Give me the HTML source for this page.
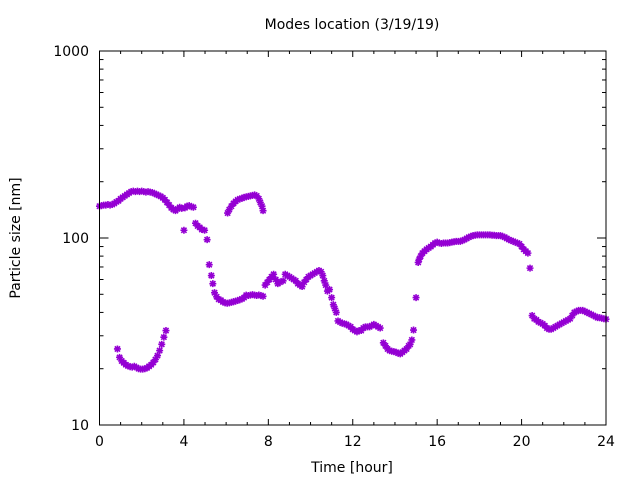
<!DOCTYPE html>
<html><head><meta charset="utf-8">
<style>
html,body{margin:0;padding:0;background:#fff;}
svg{display:block;font-family:"DejaVu Sans","Liberation Sans",sans-serif;}
</style></head>
<body>
<svg id="chart" width="640" height="480" viewBox="0 0 640 480" xmlns="http://www.w3.org/2000/svg">
<rect width="640" height="480" fill="#fff"/>
<text x="352" y="29" font-size="14" text-anchor="middle" fill="#000">Modes location (3/19/19)</text>
<text x="352" y="472" font-size="14" text-anchor="middle" fill="#000">Time [hour]</text>
<text transform="translate(20,238) rotate(-90)" font-size="14" text-anchor="middle" fill="#000">Particle size [nm]</text>
<g id="axes"></g>
<g id="points"></g>
<rect x="99.5" y="51" width="506.5" height="374" fill="none" stroke="#000" stroke-width="1"/>
</svg>
<script>
const xTicks = [0, 4, 8, 12, 16, 20, 24];
const yTicks = [10, 100, 1000];
const yTickLabels = ["10", "100", "1000"];
const hours = [
0,0.1,0.2,0.3,0.4,0.5,0.6,0.7,0.8,0.9,1.0,1.1,1.2,1.3,1.4,1.5,1.6,1.7,1.8,1.9,2.0,2.1,2.2,2.3,2.4,2.5,2.6,2.7,2.8,2.9,3.0,3.1,3.2,3.3,3.4,3.5,3.6,3.7,3.8,3.9,4.05,4.15,4.25,4.35,4.45,
4.0,
0.85,0.95,1.05,1.15,1.25,1.35,1.45,1.55,1.65,1.75,1.85,1.95,2.05,2.15,2.25,2.35,2.45,2.55,2.65,2.75,2.85,2.95,3.05,3.15,
4.55,4.65,4.75,4.85,4.98,5.1,5.2,5.3,5.37,5.45,5.55,5.65,5.75,5.85,5.95,6.05,6.15,6.25,6.35,6.45,6.55,6.65,6.75,6.85,6.95,7.05,7.15,7.25,7.35,7.45,7.55,7.65,7.75,
6.07,6.15,6.25,6.35,6.45,6.55,6.65,6.75,6.85,6.95,7.05,7.15,7.25,7.35,7.45,7.55,7.62,7.7,7.75,
7.85,7.95,8.05,8.15,8.25,8.35,8.45,8.55,8.7,8.8,8.9,9.0,9.1,9.2,9.3,9.4,9.5,9.6,9.7,9.8,9.9,10.0,10.1,10.2,10.3,10.4,10.5,10.58,10.65,10.72,10.8,10.9,11.0,11.08,11.15,11.22,11.3,11.4,11.5,11.6,11.7,11.8,11.9,12.0,12.1,12.2,12.3,12.4,12.5,12.6,12.7,12.8,12.9,13.0,13.1,13.2,13.3,
13.45,13.55,13.65,13.75,13.85,13.95,14.05,14.15,14.25,14.35,14.45,14.55,14.65,14.72,14.8,14.88,
15.0,
15.1,15.15,15.22,15.3,15.4,15.5,15.6,15.7,15.8,15.9,16.0,16.1,16.2,16.3,16.4,16.5,16.6,16.7,16.8,16.9,17.0,17.1,17.2,17.3,17.4,17.5,17.6,17.7,17.8,17.9,18.0,18.1,18.2,18.3,18.4,18.5,18.6,18.7,18.8,18.9,19.0,19.1,19.2,19.3,19.4,19.5,19.6,19.7,19.8,19.9,20.0,20.1,20.2,20.3,20.4,
20.5,20.6,20.7,20.8,20.9,21.0,21.1,21.2,21.3,21.4,21.5,21.6,21.7,21.8,21.9,22.0,22.1,22.2,22.3,22.4,22.5,22.6,22.7,22.8,22.9,23.0,23.1,23.2,23.3,23.4,23.5,23.6,23.7,23.8,23.9,24.0
];
const sizes = [
148,149,150,150,151,150,151,153,156,158,162,165,168,171,174,177,178,177,178,177,178,177,176,177,176,175,173,171,169,167,164,160,155,150,145,142,140,143,146,144,145,148,149,147,146,
110,
25.5,23,22,21.5,21,20.7,20.5,20.4,20.6,20.3,20,19.9,19.9,20,20.2,20.6,21,21.6,22.4,23.5,25,27,29.5,32,
120,116,114,111,110,98,72,63,57,51,48.5,47,46.5,45.5,45,44.8,45,45.3,45.6,46,46.3,46.8,47.2,48,49.5,49.3,49.5,49.8,49.5,49.3,49.6,49.2,48.8,
136,142,148,153,157,160,162,163,165,166,167,168,169,170,168,162,155,148,140,
56,58,60,62,64,60,57,58,59,64,63,62,61,60,59,57,56,55,58,60,62,63,64,65,66,67,66,63,59,56,52,53,48,44,42,40,36,35.5,35,34.8,34.5,34,33.5,32.5,32,31.5,32,32,33,33.5,33.5,33.5,34,34.5,34,33.5,33,
27.5,26.5,25.5,25,24.8,24.7,24.5,24.2,24,24.5,25,25.5,26.5,27,28.5,32.2,
48,
74,77,80,83,85,87,88.5,90,92,94,95,94,93.5,94,94,94,94.5,95,95.5,96,96,96,97,98,99.5,101,102,103,103.5,104,104,104,104,104,104,104,103.5,103.5,103,103,103,102,101,99.5,98,97,96,95,94,93,90,87,85,83,69,
38.5,37,36.5,35.6,35.2,34.7,34,33,32.5,32.5,33,33.5,34,34.5,35,35.5,36,36.5,37,38.5,40,40.5,41,41,41,40.5,40,39.5,39,38.5,38,37.5,37.5,37.2,37,36.8
];

const X0 = 99.5, X1 = 606, Y0 = 425, Y1 = 51;
function xScale(h){ return X0 + (h - 0) / 24 * (X1 - X0); }
function yScale(v){ return Y0 - (Math.log10(v) - 1) / 2 * (Y0 - Y1); }
const NS = "http://www.w3.org/2000/svg";
const axes = document.getElementById("axes");
function line(g, x1, y1, x2, y2, name){
  const l = document.createElementNS(NS, "line");
  l.setAttribute("x1", x1); l.setAttribute("y1", y1);
  l.setAttribute("x2", x2); l.setAttribute("y2", y2);
  l.setAttribute("stroke", "#000"); l.setAttribute("stroke-width", "1");
  
  
  g.appendChild(l);
}
for (let h = 0; h <= 24; h++) {
  const x = xScale(h);
  const major = xTicks.indexOf(h) >= 0;
  const len = major ? 6 : 3;
  line(axes, x, Y0, x, Y0 - len, "x-tick");
  line(axes, x, Y1, x, Y1 + len, "x-tick-top");
}
xTicks.forEach(h => {
  const t = document.createElementNS(NS, "text");
  t.setAttribute("x", xScale(h)); t.setAttribute("y", 446);
  t.setAttribute("font-size", "14"); t.setAttribute("text-anchor", "middle");
  t.textContent = String(h);
  
  
  axes.appendChild(t);
});
for (let d = 10; d <= 1000; d *= 10) {
  const limit = d === 1000 ? 1 : 9;
  for (let m = 1; m <= limit; m++) {
    const v = d * m;
    const y = yScale(v);
    const len = m === 1 ? 9 : 4;
    line(axes, X0, y, X0 + len, y, "y-tick");
    line(axes, X1, y, X1 - len, y, "y-tick-right");
  }
}
yTicks.forEach((v, i) => {
  const t = document.createElementNS(NS, "text");
  t.setAttribute("x", 89); t.setAttribute("y", yScale(v) + 5);
  t.setAttribute("font-size", "14"); t.setAttribute("text-anchor", "end");
  t.textContent = yTickLabels[i];
  
  
  axes.appendChild(t);
});
const pg = document.getElementById("points");
const r = 3.5, d2 = 2.6;
hours.forEach((h, i) => {
  const x = xScale(h), y = yScale(sizes[i]);
  const p = document.createElementNS(NS, "path");
  p.setAttribute("d", `M${x-r},${y}H${x+r}M${x},${y-r}V${y+r}M${x-d2},${y-d2}L${x+d2},${y+d2}M${x-d2},${y+d2}L${x+d2},${y-d2}`);
  p.setAttribute("stroke", "#9400d3");
  p.setAttribute("stroke-width", "1.6");
  
  
  pg.appendChild(p);
});
</script>
</body></html>
